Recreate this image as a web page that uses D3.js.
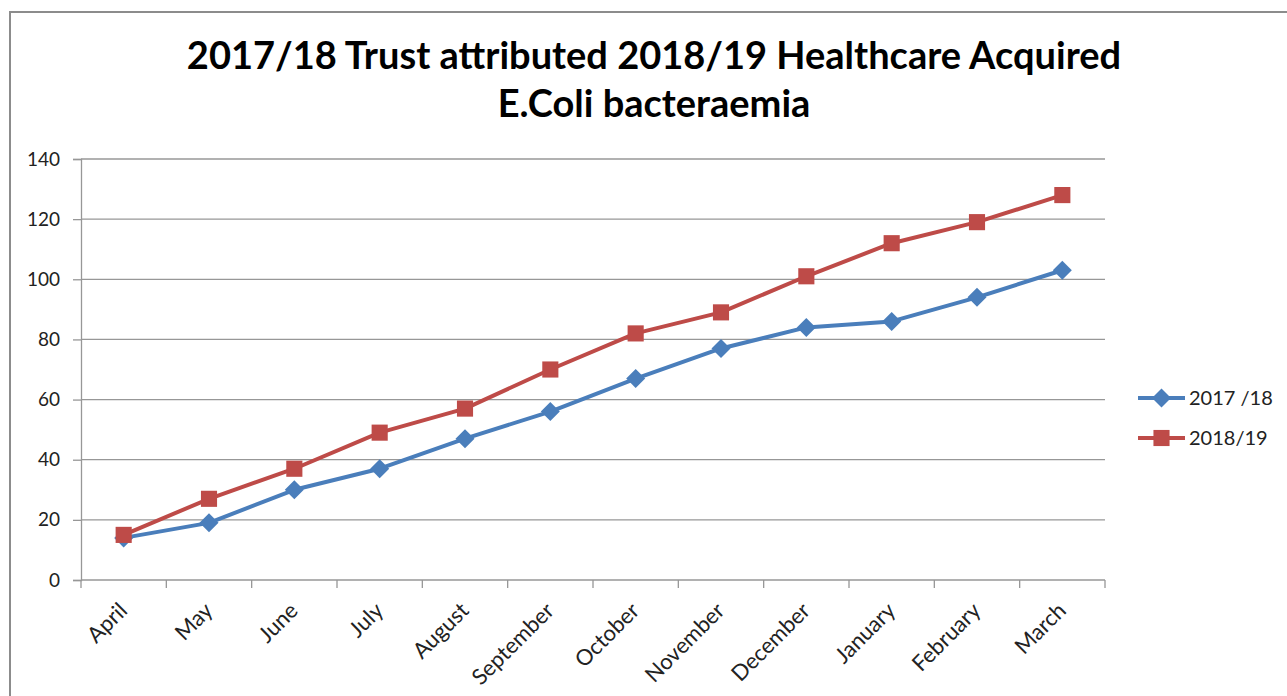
<!DOCTYPE html>
<html>
<head>
<meta charset="utf-8">
<script src="https://cdn.jsdelivr.net/npm/d3@7"></script>
<style>
  html, body { margin: 0; padding: 0; background: #fff; }
  svg { display: block; }
</style>
</head>
<body>
<svg id="chart" width="1287" height="696"></svg>
<script>
// Months of the financial year
const months = ["April", "May", "June", "July", "August", "September",
  "October", "November", "December", "January", "February", "March"];

// Cumulative E.Coli bacteraemia counts per series
const series1718 = [14, 19, 30, 37, 47, 56, 67, 77, 84, 86, 94, 103];
const series1819 = [15, 27, 37, 49, 57, 70, 82, 89, 101, 112, 119, 128];

const seriesNames = ["2017 /18", "2018/19"];
const seriesColors = ["#4A7EBB", "#BE4B48"];
const yTicks = [0, 20, 40, 60, 80, 100, 120, 140];

const titleLines = ["2017/18 Trust attributed 2018/19 Healthcare Acquired", "E.Coli bacteraemia"];

const svg = d3.select("#chart");
const font = "Lato, 'Open Sans', sans-serif";

// Chart frame
svg.append("rect")
  .attr("x", 10).attr("y", 12)
  .attr("width", 1300).attr("height", 720)
  .attr("fill", "#fff")
  .attr("stroke", "#8c8c8c").attr("stroke-width", 2);

const plot = { left: 81, right: 1105, top: 159, bottom: 580 };

const x = d3.scaleBand().domain(months).range([plot.left, plot.right]);
const y = d3.scaleLinear().domain([0, 140]).range([plot.bottom, plot.top]);

// Title
svg.append("text")
  .attr("text-anchor", "middle")
  .attr("font-family", font).attr("font-weight", "bold")
  .attr("font-size", 38).attr("fill", "#000")
  .selectAll("tspan").data(titleLines).join("tspan")
  .attr("x", 654)
  .attr("y", (d, i) => 69 + i * 48)
  .text(d => d);

// Horizontal gridlines
svg.append("g")
  .selectAll("line").data(yTicks.filter(d => d > 0)).join("line")
  .attr("x1", plot.left).attr("x2", plot.right)
  .attr("y1", d => y(d)).attr("y2", d => y(d))
  .attr("stroke", "#979797").attr("stroke-width", 1.3);

// Y axis
const yAxis = svg.append("g")
  .attr("transform", `translate(${plot.left},0)`)
  .call(d3.axisLeft(y).tickValues(yTicks).tickSize(8).tickPadding(13));
yAxis.select(".domain").attr("stroke", "#979797").attr("stroke-width", 1.3);
yAxis.selectAll(".tick line").attr("stroke", "#979797").attr("stroke-width", 1.3);
yAxis.selectAll("text")
  .attr("font-family", font).attr("font-size", 19).attr("fill", "#222");

// X axis with boundary ticks between categories
const xAxisG = svg.append("g")
  .attr("transform", `translate(0,${plot.bottom})`);
xAxisG.append("line")
  .attr("x1", plot.left).attr("x2", plot.right)
  .attr("stroke", "#979797").attr("stroke-width", 1.3);
const boundaries = months.map(m => x(m)).concat([plot.right]);
xAxisG.selectAll("line.tk").data(boundaries).join("line")
  .attr("class", "tk")
  .attr("x1", d => d).attr("x2", d => d)
  .attr("y1", 0).attr("y2", 8)
  .attr("stroke", "#979797").attr("stroke-width", 1.3);
xAxisG.selectAll("text").data(months).join("text")
  .attr("transform", d => `translate(${x(d) + x.bandwidth() / 2 + 5},${32}) rotate(-45)`)
  .attr("text-anchor", "end")
  .attr("font-family", font).attr("font-size", 22).attr("fill", "#222")
  .text(d => d);

// Lines and markers
const cx = m => x(m) + x.bandwidth() / 2;
const line = d3.line().x((d, i) => cx(months[i])).y(d => y(d));
const allSeries = [series1718, series1819];

allSeries.forEach((vals, si) => {
  svg.append("path")
    .datum(vals)
    .attr("d", line)
    .attr("fill", "none")
    .attr("stroke", seriesColors[si])
    .attr("stroke-width", 4)
    .attr("stroke-linejoin", "round");
});

const diamond = d3.symbol().type(d3.symbolDiamond2).size(230);
const square = d3.symbol().type(d3.symbolSquare).size(260);

function drawMarker(g, si, px, py) {
  g.append("path")
    .attr("d", si === 0 ? diamond() : square())
    .attr("transform", `translate(${px},${py})`)
    .attr("fill", seriesColors[si]);
}

allSeries.forEach((vals, si) => {
  const g = svg.append("g");
  vals.forEach((v, i) => drawMarker(g, si, cx(months[i]), y(v)));
});

// Legend
const legend = svg.append("g");
seriesNames.forEach((name, si) => {
  const ly = 398 + si * 40;
  legend.append("line")
    .attr("x1", 1138).attr("x2", 1185)
    .attr("y1", ly).attr("y2", ly)
    .attr("stroke", seriesColors[si]).attr("stroke-width", 4);
  drawMarker(legend, si, 1161.5, ly);
  legend.append("text")
    .attr("x", 1189).attr("y", ly + 7)
    .attr("font-family", font).attr("font-size", 20).attr("fill", "#222")
    .text(name);
});
</script>
</body>
</html>
